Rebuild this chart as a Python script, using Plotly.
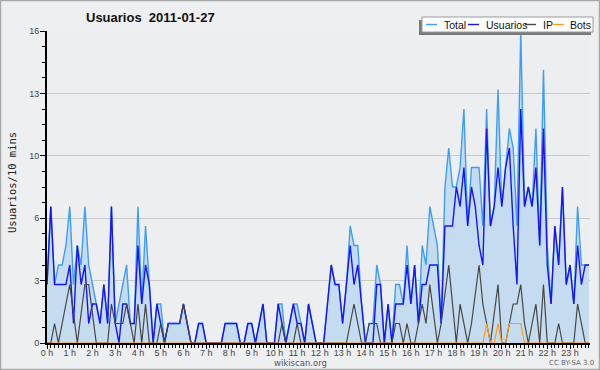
import plotly.graph_objects as go

# ---------------- data (10-minute slots, 2011-01-27) ----------------
hour_labels = [f"{h} h" for h in range(24)]
slots = list(range(144))

total = [3, 7, 3, 4, 4, 5,   7, 3, 5, 4, 7, 4,   3, 2, 1, 3, 1, 7,   1, 2, 3, 4, 1, 1,
         7, 2, 6, 3, 0, 2,   2, 0, 1, 1, 1, 1,   2, 1, 0, 0, 1, 1,   0, 0, 0, 0, 0, 1,
         1, 1, 1, 0, 0, 1,   1, 0, 1, 2, 0, 0,   0, 2, 2, 0, 1, 2,   2, 1, 0, 2, 1, 0,
         0, 0, 2, 4, 3, 3,   1, 3, 6, 5, 5, 2,   0, 1, 1, 4, 3, 0,   2, 0, 3, 3, 2, 5,
         2, 4, 1, 5, 4, 7,   6, 5, 1, 8, 10, 8,  8, 9, 12, 6, 9, 9,  9, 6, 12, 6, 7, 13,
         7, 9, 11, 10, 6, 16, 7, 8, 7, 11, 5, 14, 5, 2, 6, 4, 8, 3,  4, 2, 7, 4, 4, 4]

usuarios = [3, 7, 3, 3, 3, 3,   4, 1, 5, 3, 4, 1,   2, 2, 1, 3, 1, 7,   1, 0, 2, 2, 1, 1,
            5, 2, 4, 3, 0, 2,   1, 0, 1, 1, 1, 1,   2, 1, 0, 0, 1, 1,   0, 0, 0, 0, 0, 1,
            1, 1, 1, 0, 0, 1,   1, 0, 1, 2, 0, 0,   0, 2, 1, 0, 1, 2,   1, 1, 0, 2, 1, 0,
            0, 0, 2, 4, 3, 3,   1, 3, 5, 3, 4, 2,   0, 0, 0, 3, 3, 0,   2, 0, 2, 2, 2, 4,
            2, 4, 1, 3, 3, 4,   4, 4, 1, 6, 6, 6,   8, 7, 9, 6, 8, 7,   5, 4, 11, 6, 7, 9,
            7, 9, 10, 6, 3, 12, 7, 8, 7, 9, 5, 11,  4, 2, 6, 4, 8, 3,   4, 2, 5, 3, 4, 4]

ip = [0, 0, 1, 0, 1, 2,   3, 1.5, 0, 1.5, 3, 3,   1.5, 0, 0, 0, 0, 2,   1, 1, 1, 2, 1, 0,
      2, 0, 2, 0, 0, 0,   1, 0, 1, 1, 1, 1,   2, 1, 0, 0, 0, 0,   0, 0, 0, 0, 0, 0,
      0, 0, 0, 0, 0, 0,   0, 0, 0, 0, 0, 0,   0, 0, 1, 0, 0, 0,   1, 0, 0, 0, 0, 0,
      0, 0, 0, 0, 0, 0,   0, 0, 1, 2, 1, 0,   0, 1, 1, 1, 0, 0,   0, 0, 1, 1, 0, 1,
      0, 0, 1, 2, 1, 3,   1.5, 0, 1, 2.5, 4, 2,   0, 2, 1, 0, 1, 2.5,   4, 2, 1, 0, 1.5, 3,
      0, 0, 1, 2, 2, 3,   1, 0, 1, 2, 0, 3,   0, 0, 0, 1, 0, 0,   0, 0, 2, 1, 0, 0]

bots = [0] * 116 + [1, 0, 0, 1, 0, 0, 1, 1, 1, 1] + [0] * 18

y_tick_vals = [0, 3.2, 6.4, 9.6, 12.8, 16]
y_tick_text = ["0", "3", "6", "10", "13", "16"]

# ---------------- styling ----------------
W, H = 600, 370
L, R, T, B = 47, 10, 31, 27
PW, PH = W - L - R, H - T - B

C_TOTAL = "#3d9ef5"
C_FILL = "#c5dcf0"
C_USU = "#1414ff"
C_IP = "#454545"
C_BOTS = "#ff9a1a"


def px_x(px):
    return (px - L) / PW


def px_y(py):
    return (H - B - py) / PH


fig = go.Figure()
fig.add_trace(go.Scatter(x=slots, y=total, mode="lines", name="Total",
                         line=dict(color=C_TOTAL, width=1.4), fill="tozeroy",
                         fillcolor=C_FILL))
fig.add_trace(go.Scatter(x=slots, y=usuarios, mode="lines", name="Usuarios",
                         line=dict(color=C_USU, width=1.4)))
fig.add_trace(go.Scatter(x=slots, y=ip, mode="lines", name="IP",
                         line=dict(color=C_IP, width=1.2)))
fig.add_trace(go.Scatter(x=slots, y=bots, mode="lines", name="Bots",
                         line=dict(color=C_BOTS, width=1.2)))

fig.update_layout(
    width=W, height=H,
    margin=dict(l=L, r=R, t=T, b=B, pad=0),
    paper_bgcolor="#eeeff1",
    plot_bgcolor="#eceef0",
    showlegend=False,
    font=dict(family="Liberation Sans, DejaVu Sans, sans-serif", size=9, color="#444"),
    title=dict(text="<b>Usuarios&nbsp; 2011-01-27</b>", x=86 / W, xanchor="left",
               xref="container", y=1 - 17 / H, yanchor="middle", yref="container",
               font=dict(family="Liberation Sans, DejaVu Sans, sans-serif", size=13, color="#111")),
)

fig.update_xaxes(
    range=[0, PW / 3.79], showgrid=False, zeroline=False,
    showline=True, linecolor="black", linewidth=2,
    tickmode="array", tickvals=slots[::6], ticktext=hour_labels,
    ticks="outside", ticklen=4, tickwidth=1, tickcolor="black",
    ticklabelstandoff=-4,
    tickfont=dict(size=9, color="#444"),
    minor=dict(dtick=1, tick0=0, ticks="outside", ticklen=3, tickcolor="black", showgrid=False),
)
fig.update_yaxes(
    range=[0, 16], showgrid=True, gridcolor="#c9c9c9", gridwidth=1, zeroline=False,
    showline=True, linecolor="black", linewidth=2,
    tickmode="array", tickvals=y_tick_vals, ticktext=y_tick_text,
    ticks="outside", ticklen=5, tickwidth=1, tickcolor="black",
    ticklabelstandoff=-1,
    tickfont=dict(size=9, color="#444"),
    minor=dict(dtick=0.8, tick0=0, ticks="outside", ticklen=3, tickcolor="black", showgrid=False),
)

shapes = []
annotations = []

# outer frame
shapes.append(dict(type="rect", xref="paper", yref="paper",
                   x0=px_x(0.5), x1=px_x(W - 0.5), y0=px_y(H - 0.5), y1=px_y(0.5),
                   line=dict(color="#a8a8a8", width=1.5), fillcolor="rgba(0,0,0,0)", layer="above"))

# legend box with shadow
shapes.append(dict(type="rect", xref="paper", yref="paper",
                   x0=px_x(419), x1=px_x(591), y0=px_y(35), y1=px_y(20),
                   line=dict(width=0), fillcolor="#7a7a7a", layer="above"))
shapes.append(dict(type="rect", xref="paper", yref="paper",
                   x0=px_x(422), x1=px_x(593), y0=px_y(32), y1=px_y(17),
                   line=dict(color="#9a9a9a", width=1), fillcolor="white", layer="above"))
legend_items = [("Total", C_TOTAL, 426, 442), ("Usuarios", C_USU, 468, 484),
                ("IP", C_IP, 525, 541), ("Bots", C_BOTS, 553, 568)]
for name, col, lx, tx in legend_items:
    shapes.append(dict(type="line", xref="paper", yref="paper",
                       x0=px_x(lx), x1=px_x(lx + 11), y0=px_y(24.5), y1=px_y(24.5),
                       line=dict(color=col, width=1.4), layer="above"))
    annotations.append(dict(text=name, xref="paper", yref="paper", x=px_x(tx), y=px_y(24.5),
                            xanchor="left", yanchor="middle", showarrow=False,
                            font=dict(family="Liberation Sans, sans-serif", size=10.5, color="#111")))

# y axis title
annotations.append(dict(text="Usuarios/10 mins", xref="paper", yref="paper",
                        x=px_x(12), y=px_y(183), textangle=-90, showarrow=False,
                        xanchor="center", yanchor="middle",
                        font=dict(family="DejaVu Sans Mono, monospace", size=10.5, color="#222")))
# footer
annotations.append(dict(text="wikiscan.org", xref="paper", yref="paper",
                        x=px_x(300), y=px_y(363), showarrow=False, xanchor="center", yanchor="middle",
                        font=dict(family="DejaVu Sans, sans-serif", size=8.5, color="#555")))
annotations.append(dict(text="CC BY-SA 3.0", xref="paper", yref="paper",
                        x=px_x(596), y=px_y(363), showarrow=False, xanchor="right", yanchor="middle",
                        font=dict(family="DejaVu Sans, sans-serif", size=7, color="#666")))

fig.update_layout(shapes=shapes, annotations=annotations)
fig.write_html("out.html", config={"displayModeBar": False},
               post_script="document.body.style.margin='0';document.body.style.overflow='hidden';")
